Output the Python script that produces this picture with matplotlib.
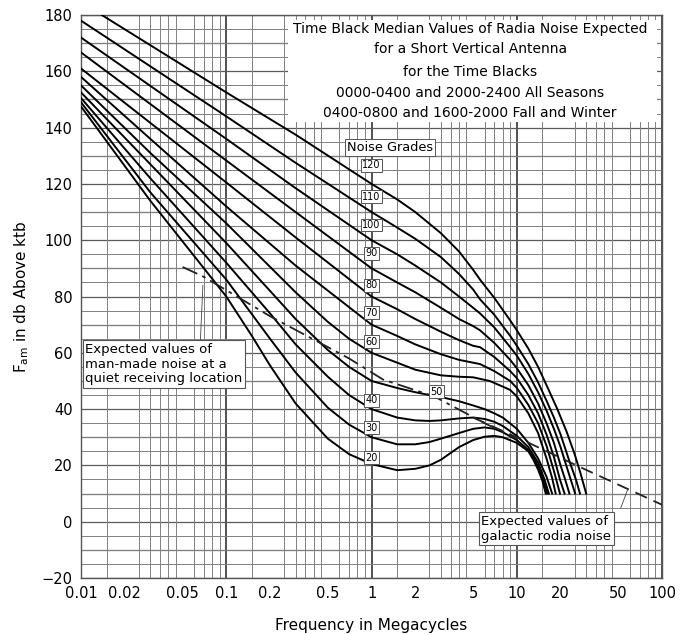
import numpy as np
import matplotlib.pyplot as plt
from matplotlib.patches import Rectangle
from matplotlib.ticker import FixedLocator, NullFormatter

# noise grade curves (frequency in Mc, Fam in db)
f120 = [0.0139, 0.1, 0.3, 1, 1.5, 2, 3, 4, 5, 5.58, 7, 9, 10, 12, 14, 16.5, 19, 22, 25, 27.5, 30]
v120 = [180, 152.5, 137.5, 120, 114.5, 110, 102.5, 96, 89.5, 86, 79.5, 71.5, 68, 61.5, 55, 47, 40, 32, 24, 17, 10]
f110 = [0.01, 0.1, 0.3, 1, 1.5, 2, 3, 4, 5, 5.58, 7, 9, 10, 12, 14, 16, 18, 20, 23, 25.5, 27.2]
v110 = [178, 144, 127.5, 110, 104.5, 100.5, 94, 88, 82.5, 79, 73.5, 66, 62.5, 56, 49.5, 43, 37, 31, 21.5, 15, 10]
f100 = [0.01, 0.1, 0.3, 1, 1.5, 2, 3, 4, 5, 5.58, 7, 9, 10, 12, 14, 16, 18, 20, 22.5, 25.2]
v100 = [172, 136, 118.5, 100, 95, 91, 85, 80, 76, 74, 69, 62, 59, 52.5, 46, 39.5, 33, 26.5, 18, 10]
f90 = [0.01, 0.1, 0.3, 1, 1.5, 2, 3, 4, 5, 5.58, 7, 9, 10, 12, 14, 16, 18, 20, 21.5, 23]
v90 = [166.7, 128.3, 110, 90, 85, 81.5, 76, 72, 69.5, 68, 63.5, 57.5, 54.5, 48.5, 42, 35, 28, 20, 15, 10]
f80 = [0.01, 0.1, 0.3, 1, 1.5, 2, 3, 4, 5, 5.58, 7, 9, 10, 12, 14, 16, 18, 19.8, 21.3]
v80 = [161, 120.5, 101, 80, 75.5, 72, 67.5, 64.5, 62.5, 62, 58.5, 53.5, 51, 45, 38.5, 31, 23, 15, 10]
f70 = [0.01, 0.03, 0.1, 0.3, 1, 1.5, 2, 3, 4, 5, 5.58, 7, 9, 10, 12, 14, 16, 18, 19.8]
v70 = [158, 136, 112, 91, 70, 66, 63, 59.5, 57.5, 56.5, 56, 53.5, 50, 47.5, 41.5, 35, 27, 18, 10]
f60 = [0.01, 0.03, 0.1, 0.3, 0.5, 0.7, 1, 1.5, 2, 3, 4, 5, 6.5, 8, 9, 10, 12, 14, 16, 17.5, 18.5]
v60 = [155, 131, 106, 81.5, 71, 65, 60, 56.5, 54, 52, 51.5, 51.3, 50, 48, 46.8, 44.5, 38.5, 31.5, 22.5, 15.5, 10]
f50 = [0.01, 0.03, 0.1, 0.2, 0.3, 0.5, 0.7, 1, 1.5, 2, 2.5, 3, 4, 5, 6, 7, 8, 10, 12, 14, 16, 17.5]
v50 = [152.5, 127, 99, 82, 72, 61, 55, 50, 47.5, 46, 45, 44.3, 42.8, 41.3, 40, 38.5, 37, 33, 28, 22.5, 16, 10]
f40 = [0.01, 0.03, 0.1, 0.2, 0.3, 0.5, 0.7, 1, 1.5, 2, 2.5, 3, 4, 5, 6, 7, 8, 10, 12, 14, 15.5, 16.6]
v40 = [150.5, 122, 92, 74, 63, 51.5, 45, 40, 37, 36, 35.8, 36, 36.7, 37, 36.5, 35.5, 34, 30.5, 26.5, 21, 15, 10]
f30 = [0.01, 0.03, 0.1, 0.2, 0.3, 0.5, 0.7, 1, 1.5, 2, 2.5, 3, 4, 5, 6, 7, 8, 10, 12, 13, 14, 15, 16.2]
v30 = [149, 117, 86, 65, 53, 40.5, 34.5, 30, 27.5, 27.5, 28.3, 29.5, 31.5, 33, 33.5, 33, 31.8, 29, 25.5, 23, 19.5, 15.5, 10]
f20 = [0.01, 0.03, 0.1, 0.15, 0.2, 0.3, 0.5, 0.7, 1, 1.5, 2, 2.5, 3, 4, 5, 6, 7, 8, 10, 12, 13, 14, 15, 15.8]
v20 = [147.5, 114, 80, 66, 55.5, 42, 29.5, 24, 20.5, 18.3, 18.8, 20, 22, 26.5, 29, 30.2, 30.5, 30, 28, 25, 22, 18.5, 14.5, 10]

# man-made noise (quiet location) and galactic noise
f_man = [0.05, 0.07, 0.2, 0.7, 1.2, 2.7, 6, 10]
v_man = [90.5, 87, 73, 58, 50.5, 44.5, 35, 29.5]
f_gal = [5, 11, 27, 100]
v_gal = [37, 29, 19.5, 6]

grade_labels = ['120', '110', '100', '90', '80', '70', '60', '40', '30', '20']
grade_label_db = [126.7, 115.5, 105.4, 95.4, 84, 74.2, 64, 43.2, 33.4, 22.7]

title_lines = ['Time Black Median Values of Radia Noise Expected',
               'for a Short Vertical Antenna',
               'for the Time Blacks',
               '0000-0400 and 2000-2400 All Seasons',
               '0400-0800 and 1600-2000 Fall and Winter']
title_db = [175, 167.9, 159.8, 152.3, 145.2]

x_ticks = [0.01, 0.02, 0.05, 0.1, 0.2, 0.5, 1, 2, 5, 10, 20, 50, 100]
x_ticklabels = ['0.01', '0.02', '0.05', '0.1', '0.2', '0.5', '1', '2', '5',
                '10', '20', '50', '100']
y_ticks = [-20, 0, 20, 40, 60, 80, 100, 120, 140, 160, 180]

fig = plt.figure(figsize=(6.89, 6.34), dpi=100)
ax = fig.add_axes([0.1176, 0.0883, 0.8434, 0.888])
ax.set_xscale('log')
ax.set_xlim(0.01, 100)
ax.set_ylim(-20, 180)

# graph paper grid
minor_x = []
for d in [0.01, 0.1, 1, 10]:
    for m in [1.5, 2, 2.5, 3, 3.5, 4, 4.5, 5, 6, 7, 8, 9]:
        minor_x.append(d * m)
ax.xaxis.set_major_locator(FixedLocator(x_ticks))
ax.xaxis.set_minor_locator(FixedLocator(minor_x))
ax.xaxis.set_minor_formatter(NullFormatter())
ax.set_xticklabels(x_ticklabels)
ax.yaxis.set_major_locator(FixedLocator(y_ticks))
ax.yaxis.set_minor_locator(FixedLocator(list(range(-20, 181, 5))))
ax.grid(which='minor', color='#808080', lw=0.7)
for d in [0.01, 0.1, 1, 10, 100]:
    ax.axvline(d, color='#444444', lw=1.3, zorder=1)
for y in range(-20, 181, 10):
    ax.axhline(y, color='#5a5a5a', lw=0.9, zorder=1)
ax.tick_params(which='both', length=0, labelsize=10.5, pad=6)
for s in ax.spines.values():
    s.set_color('#555555')
    s.set_linewidth(1.0)

# white panel behind the heading
ax.add_patch(Rectangle((0.267, 142), 92.4 - 0.267, 178.2 - 142, fc='white',
                       ec='none', zorder=2))
for line, y in zip(title_lines, title_db):
    ax.text(4.77, y, line, fontsize=10, ha='center', va='center', zorder=6)

for f, v in [(f120, v120), (f110, v110), (f100, v100), (f90, v90), (f80, v80),
             (f70, v70), (f60, v60), (f50, v50), (f40, v40), (f30, v30), (f20, v20)]:
    ax.plot(f, v, color='black', lw=1.4, zorder=3, solid_joinstyle='round')

ax.plot(f_man, v_man, color='#222222', lw=1.3, ls=(0, (9, 3, 2, 3)), zorder=4)
ax.plot(f_gal, v_gal, color='#222222', lw=1.3, ls=(0, (7, 4)), zorder=4)

box = dict(boxstyle='square,pad=0.15', fc='white', ec='#555555', lw=0.7)
for lab, y in zip(grade_labels, grade_label_db):
    ax.text(1, y, lab, fontsize=7, ha='center', va='center', bbox=box, zorder=5)
ax.text(2.81, 46.2, '50', fontsize=7, ha='center', va='center', bbox=box, zorder=5)
ax.text(1.33, 132.9, 'Noise Grades', fontsize=9.3, ha='center', va='center',
        bbox=dict(boxstyle='square,pad=0.15', fc='white', ec='#555555', lw=0.7), zorder=5)

ax.text(0.0107, 56, 'Expected values of\nman-made noise at a\nquiet receiving location',
        fontsize=9.5, ha='left', va='center', linespacing=1.15, zorder=6,
        bbox=dict(boxstyle='square,pad=0.2', fc='white', ec='#555555', lw=0.8))
ax.plot([0.066, 0.069], [62, 84], color='#444444', lw=0.6, zorder=5)

ax.text(5.7, -2.5, 'Expected values of\ngalactic rodia noise',
        fontsize=9.5, ha='left', va='center', linespacing=1.2, zorder=6,
        bbox=dict(boxstyle='square,pad=0.2', fc='white', ec='#555555', lw=0.8))
ax.plot([52, 58], [5, 11.5], color='#444444', lw=0.6, zorder=5)

ax.set_xlabel('Frequency in Megacycles', fontsize=11, labelpad=12)
ax.set_ylabel(r'F$_{\rm am}$ in db Above ktb', fontsize=11, labelpad=8)

fig.savefig('out.png', dpi=100)
